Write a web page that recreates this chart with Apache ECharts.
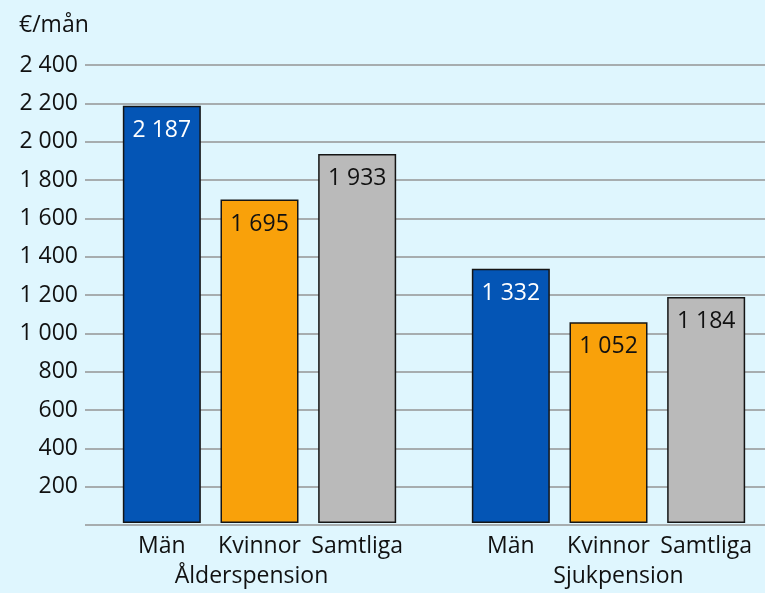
<!DOCTYPE html>
<html>
<head>
<meta charset="utf-8">
<script src="https://cdn.jsdelivr.net/npm/echarts@6/dist/echarts.min.js"></script>
<style>
html,body{margin:0;padding:0;background:#DFF6FE;}
#chart{width:765px;height:593px;}
</style>
</head>
<body>
<div id="chart"></div>
<script>
// ---- data ----
var unitLabel = '€/mån';
var groups = ['Ålderspension', 'Sjukpension'];
var categories = ['Män', 'Kvinnor', 'Samtliga'];
var alderValues = [2187, 1695, 1933];
var sjukValues = [1332, 1052, 1184];
var yMin = 0, yMax = 2400, yStep = 200;

// ---- styles ----
var FONT = 'Open Sans';
var FS = 23;
var barColors = ['#0455B5', '#F9A10A', '#BABABA'];
var labelColors = ['#ffffff', '#111111', '#111111'];

function fmt(v) {
  return String(v).replace(/\B(?=(\d{3})+(?!\d))/g, ' ');
}

function buildData(values) {
  return values.map(function (v, i) {
    return {
      value: v,
      itemStyle: { color: barColors[i] },
      label: { color: labelColors[i] }
    };
  });
}

var chart = echarts.init(document.getElementById('chart'));
var grids = [
  { left: 85, right: 0, top: 65, bottom: 68 },
  { left: 113, width: 293, top: 65, bottom: 68 },
  { left: 462, width: 293, top: 65, bottom: 68 }
];

function catAxis(gi, name, pad) {
  return {
    type: 'category', gridIndex: gi, data: categories,
    axisLine: { show: false }, axisTick: { show: false },
    axisLabel: { fontFamily: FONT, fontSize: FS, color: '#111', margin: 12, interval: 0 },
    name: name, nameLocation: 'middle', nameGap: 42,
    nameTextStyle: { fontFamily: FONT, fontSize: FS, color: '#111', padding: pad }
  };
}
function hiddenY(gi) {
  return { type: 'value', gridIndex: gi, min: yMin, max: yMax, interval: yStep, show: false };
}
function barSeries(gi, values) {
  return {
    type: 'bar', xAxisIndex: gi, yAxisIndex: gi, barWidth: 78,
    data: buildData(values),
    itemStyle: { borderColor: '#151515', borderWidth: 1.5 },
    label: {
      show: true, position: 'insideTop', distance: 13,
      fontFamily: FONT, fontSize: FS,
      formatter: function (p) { return fmt(p.value); }
    },
    silent: true
  };
}

chart.setOption({
  backgroundColor: '#DFF6FE',
  animation: false,
  title: {
    text: unitLabel, left: 19, top: 14, padding: 0,
    textStyle: { fontFamily: FONT, fontSize: FS, fontWeight: 'normal', color: '#111' }
  },
  grid: grids,
  xAxis: [
    { type: 'category', gridIndex: 0, data: [''], show: false },
    catAxis(1, groups[0], [0, 16, 0, 0]),
    catAxis(2, groups[1], [0, 0, 0, 20])
  ],
  yAxis: [
    {
      type: 'value', gridIndex: 0, min: yMin, max: yMax, interval: yStep,
      axisLine: { show: false }, axisTick: { show: false },
      splitLine: { show: true, lineStyle: { color: '#959595', width: 1.5 } },
      axisLabel: {
        fontFamily: FONT, fontSize: FS, color: '#111', margin: 7,
        formatter: function (v) { return v === 0 ? '' : fmt(v); }
      }
    },
    hiddenY(1),
    hiddenY(2)
  ],
  series: [
    barSeries(1, alderValues),
    barSeries(2, sjukValues)
  ]
});
</script>
</body>
</html>
